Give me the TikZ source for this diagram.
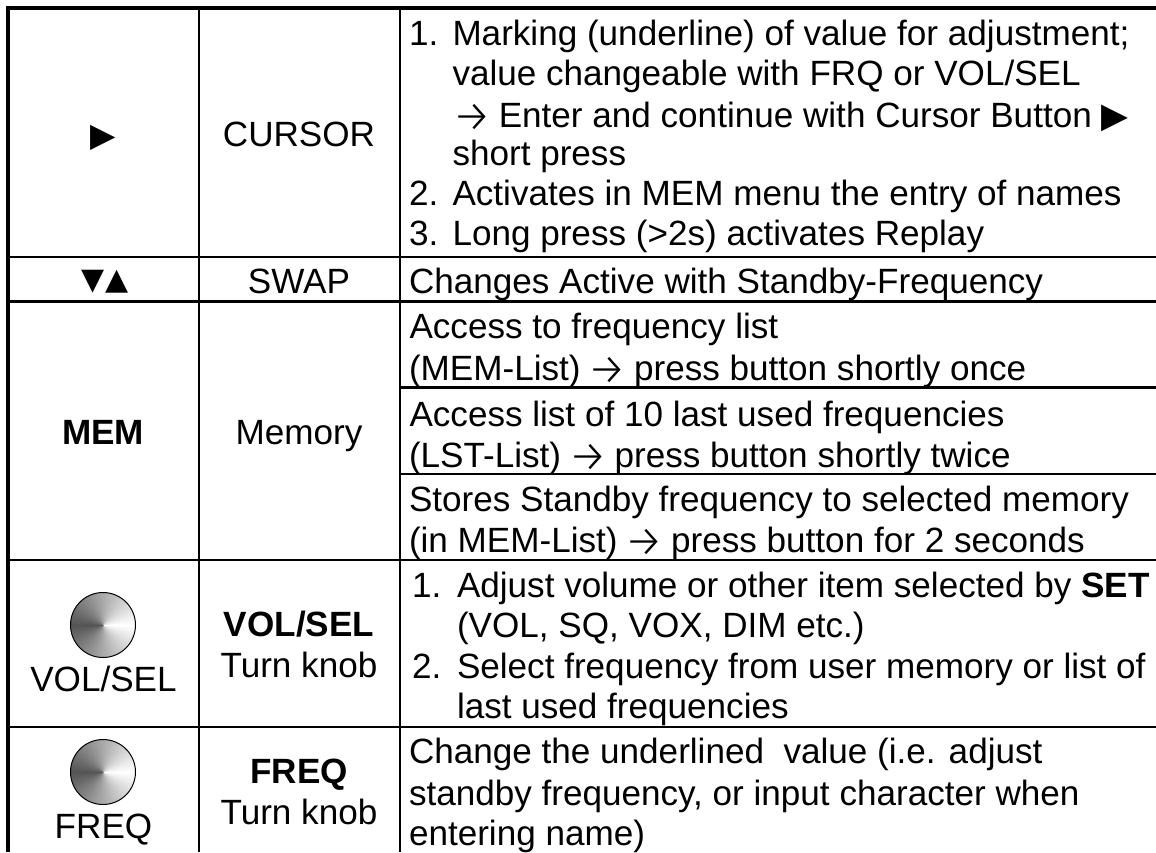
\documentclass[tikz,border=0pt]{standalone}
\usepackage{fontspec}
\setmainfont{Liberation Sans}
\newfontfamily\symfont{DejaVu Sans}
\newfontfamily\arrfont{Fira Sans Light}
\newcommand{\arr}{\makebox[34pt][c]{\smash{\raisebox{-4.5pt}{\arrfont\fontsize{44}{40}\selectfont →}}}}
\pgfdeclarefunctionalshading{knobcone}{\pgfpoint{-50bp}{-50bp}}{\pgfpoint{50bp}{50bp}}{}{
  exch 0.0001 add atan
  dup 180 gt {360 exch sub} if
  180 div 0.67 mul 1 exch sub
  dup dup
}
\tikzset{
  cell/.style={inner sep=0pt,outer sep=0pt,font=\fontsize{35.1}{40}\selectfont},
  lefttext/.style={cell,anchor=base west},
  midtext/.style={cell,anchor=base},
  thick rule/.style={line width=3.8pt,black},
  thin rule/.style={line width=2.3pt,black},
  knob rim/.style={circle,draw=black,line width=1pt,minimum size=65pt,inner sep=0pt,shading=knobcone}
}
\begin{document}
\begin{tikzpicture}[x=1pt,y=-1pt]
\useasboundingbox (0,0) rectangle (1156,852);
% rules
\coordinate (tl) at (8,8); \coordinate (tr) at (1156,8); \coordinate (bl) at (8,852);
\draw[thick rule] (tl) -- (tr);
\draw[thick rule] (8,6) -- (bl);
\draw[thin rule] (199,8) -- (199,852);
\draw[thin rule] (400,8) -- (400,852);
\foreach \y in {257,301.5,560,727}{\draw[thin rule] (8,\y) -- (1156,\y);}
\foreach \y in {387.5,474}{\draw[thin rule] (400,\y) -- (1156,\y);}
% first column
\node[midtext] (c1a) at (103,146) {\symfont\fontsize{33}{40}\selectfont ▶};
\node[midtext] (c1b) at (105,289) {\symfont\fontsize{30}{40}\selectfont ▼▲};
\node[midtext] (c1c) at (103,444) {\bfseries MEM};
\node[knob rim] (k1) at (103,625) {};
\node[midtext] (c1d) at (103.5,691) {VOL/SEL};
\node[knob rim] (k2) at (103,772) {};
\node[midtext] (c1e) at (103.5,838) {FREQ};
% second column
\node[midtext] (c2a) at (299,146) {CURSOR};
\node[midtext] (c2b) at (299,293) {SWAP};
\node[midtext] (c2c) at (299,444) {Memory};
\node[midtext] (c2d) at (299,636) {\bfseries VOL/SEL};
\node[midtext] (c2e) at (299,677) {Turn knob};
\node[midtext] (c2f) at (299,783) {\bfseries FREQ};
\node[midtext] (c2g) at (299,824) {Turn knob};
% third column
\node[lefttext] (n1) at (409,45) {1.};
\node[lefttext] (t1) at (452.5,45) {Marking (underline) of value for adjustment;};
\node[lefttext] (t2) at (452.5,85) {value changeable with FRQ or VOL/SEL};
\node[lefttext] (t3) at (452.5,127) {\hspace{2.5pt}\arr\ Enter and continue with Cursor Button {\symfont\fontsize{35}{40}\selectfont\smash{▶}}};
\node[lefttext] (t4) at (452.5,165.5) {short press};
\node[lefttext] (n2) at (409,205.5) {2.};
\node[lefttext] (t5) at (452.5,205.5) {Activates in MEM menu the entry of names};
\node[lefttext] (n3) at (409,245.5) {3.};
\node[lefttext] (t6) at (452.5,245.5) {Long press (>2s) activates Replay};
\node[lefttext] (t7) at (409,293) {Changes Active with Standby-Frequency};
\node[lefttext] (t8) at (409.5,338) {Access to frequency list};
\node[lefttext] (t9) at (409,380) {(MEM-List) \arr\ press button shortly once};
\node[lefttext] (t10) at (409.5,426) {Access list of 10 last used frequencies};
\node[lefttext] (t11) at (409,467) {(LST-List) \arr\ press button shortly twice};
\node[lefttext] (t12) at (409,511) {Stores Standby frequency to selected memory};
\node[lefttext] (t13) at (409,552) {(in MEM-List) \arr\ press button for 2 seconds};
\node[lefttext] (n4) at (412,597) {1.};
\node[lefttext] (t14) at (457,597) {Adjust volume or other item selected by \textbf{SET}};
\node[lefttext] (t15) at (457,637) {(VOL, SQ, VOX, DIM etc.)};
\node[lefttext] (n5) at (412,678) {2.};
\node[lefttext] (t16) at (457,678) {Select frequency from user memory or list of};
\node[lefttext] (t17) at (457,718) {last used frequencies};
\node[lefttext] (t18) at (409,763) {Change the underlined\ \ value (i.e. adjust};
\node[lefttext] (t19) at (409,805) {standby frequency, or input character when};
\node[lefttext] (t20) at (409,845) {entering name)};
\end{tikzpicture}
\end{document}
